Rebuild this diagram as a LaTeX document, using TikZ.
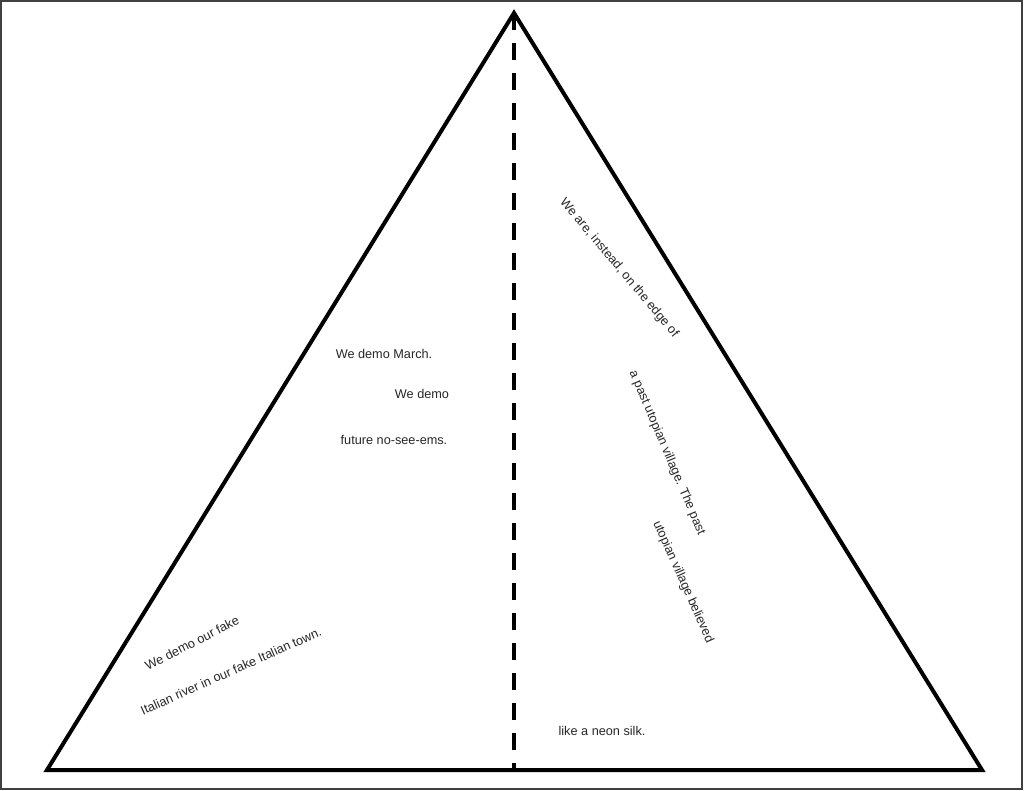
\documentclass[tikz,border=0pt]{standalone}
\usepackage{fontspec}
\setmainfont{Liberation Sans}
\usepackage{tikz}
\usetikzlibrary{positioning}
\tikzset{verse/.style={font=\fontsize{12.7}{15}\selectfont, inner sep=0pt, text=black!85}}
\tikzset{tent/.style={line width=4pt, line join=miter}}
\tikzset{split/.style={line width=4pt, dash pattern=on 17pt off 13pt}}

\begin{document}
\begin{tikzpicture}[x=1pt,y=-1pt]
\useasboundingbox (0,0) rectangle (1024,791);
\draw[line width=2pt, black!75] (1,1) rectangle (1022,789);
% the triangle and its middle line
\coordinate (apex) at (514,13);
\coordinate (baseL) at (47,770);
\coordinate (baseR) at (982,770);
\coordinate (baseM) at (514,770);
\draw[tent] (apex) -- (baseR) -- (baseL) -- cycle;
\draw[split] (apex) -- (baseM);
% left half
\node[verse] (march) at (384,354) {We demo March.};
\node[verse] (demo) at (422,394) {We demo};
\node[verse] (future) at (394,440) {future no-see-ems.};
\node[verse, rotate=27] (fake) at (192,643) {We demo our fake};
\node[verse, rotate=24] (river) at (231,671) {Italian river in our fake Italian town.};
% right half
\node[verse, rotate=-50] (edge) at (619,268) {We are, instead, on the edge of};
\node[verse, rotate=-67] (past) at (667,453) {a past utopian village. The past};
\node[verse, rotate=-66] (believed) at (683,582) {utopian village believed};
\node[verse] (silk) at (602,731) {like a neon silk.};
\end{tikzpicture}
\end{document}
